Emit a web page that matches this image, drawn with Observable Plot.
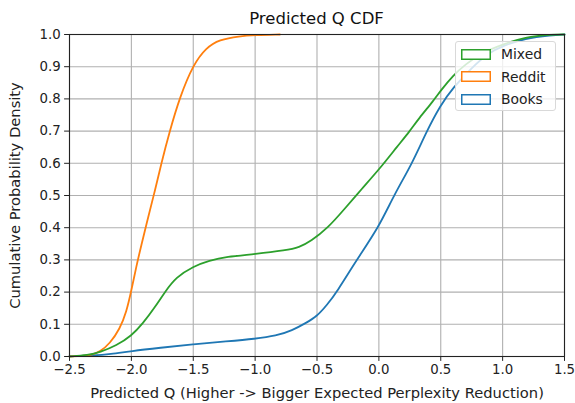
<!DOCTYPE html>
<html>
<head>
<meta charset="utf-8">
<script src="https://cdn.jsdelivr.net/npm/d3@7"></script>
<script src="https://cdn.jsdelivr.net/npm/@observablehq/plot@0.6"></script>
<style>
  body { margin: 0; background: #fff; font-family: "DejaVu Sans", sans-serif; overflow: hidden; }
  #wrap { position: relative; width: 575px; height: 403px; }
  #legend { position: absolute; left: 455px; top: 41px; width: 101px; height: 70px;
    background: rgba(255,255,255,0.8); border: 1px solid #d9d9d9; border-radius: 3px; box-sizing: border-box; }
  .item { position: absolute; left: 5px; height: 14px; display: flex; align-items: center; font-size: 13.9px; color: #222; white-space: nowrap; }
  .item svg { margin-right: 10px; flex: none; }
</style>
</head>
<body>
<div id="wrap"><div id="chart"></div><div id="legend"></div></div>
<script>
const title = "Predicted Q CDF";
const xLabel = "Predicted Q (Higher -> Bigger Expected Perplexity Reduction)";
const yLabel = "Cumulative Probability Density";
const seriesNames = ["Mixed", "Reddit", "Books"];
const seriesColors = ["#2ca02c", "#ff7f0e", "#1f77b4"];
const xTicks = [-2.5, -2.0, -1.5, -1.0, -0.5, 0.0, 0.5, 1.0, 1.5];
const yTicks = [0, 0.1, 0.2, 0.3, 0.4, 0.5, 0.6, 0.7, 0.8, 0.9, 1.0];

const redditX = [-2.5, -2.4, -2.31, -2.254, -2.174, -2.093, -2.04, -2.0, -1.96, -1.92, -1.865, -1.81, -1.76, -1.69, -1.61, -1.5, -1.395, -1.29, -1.127, -1.0, -0.8];
const redditY = [0.0, 0.001, 0.006, 0.015, 0.04, 0.086, 0.138, 0.205, 0.28, 0.345, 0.432, 0.514, 0.597, 0.70, 0.804, 0.907, 0.959, 0.984, 0.995, 0.998, 1.0];

const mixedX = [-2.5, -2.35, -2.254, -2.12, -2.0, -1.91, -1.81, -1.73, -1.64, -1.5, -1.37, -1.234, -1.0, -0.75, -0.644, -0.55, -0.41, -0.28, -0.14, 0.0, 0.15, 0.25, 0.32, 0.443, 0.5, 0.6, 0.698, 0.83, 1.0, 1.18, 1.395, 1.5];
const mixedY = [0.0, 0.004, 0.013, 0.034, 0.064, 0.101, 0.153, 0.20, 0.246, 0.28, 0.298, 0.31, 0.318, 0.33, 0.339, 0.358, 0.40, 0.457, 0.52, 0.58, 0.653, 0.70, 0.738, 0.795, 0.826, 0.873, 0.907, 0.943, 0.969, 0.992, 1.0, 1.0];

const booksX = [-2.5, -2.31, -2.17, -2.0, -1.77, -1.5, -1.23, -1.0, -0.83, -0.70, -0.59, -0.5, -0.42, -0.34, -0.18, 0.0, 0.12, 0.27, 0.38, 0.5, 0.6, 0.75, 0.886, 1.0, 1.18, 1.395, 1.5];
const booksY = [0.001, 0.003, 0.007, 0.017, 0.027, 0.038, 0.047, 0.055, 0.064, 0.081, 0.104, 0.125, 0.16, 0.20, 0.30, 0.402, 0.50, 0.60, 0.695, 0.782, 0.835, 0.897, 0.943, 0.964, 0.988, 0.998, 1.0];

const seriesX = [mixedX, redditX, booksX];
const seriesY = [mixedY, redditY, booksY];
const data = seriesNames.flatMap((name, i) => seriesX[i].map((x, j) => ({series: name, x, y: seriesY[i][j]})));
const drawOrder = ["Books", "Reddit", "Mixed"];

const fmt = d3.format(".1f");
const mL = 69, mR = 11;
const chart = Plot.plot({
  width: 575, height: 403,
  marginLeft: mL, marginRight: mR, marginTop: 34, marginBottom: 47,
  style: {fontFamily: "DejaVu Sans, sans-serif", fontSize: "13.3px", color: "#222", background: "#fff", overflow: "visible"},
  x: {domain: [-2.5, 1.5]},
  y: {domain: [0, 1]},
  color: {domain: seriesNames, range: seriesColors},
  marks: [
    Plot.gridX(xTicks, {stroke: "#b0b0b0", strokeOpacity: 1, strokeWidth: 1.1}),
    Plot.gridY(yTicks, {stroke: "#b0b0b0", strokeOpacity: 1, strokeWidth: 1.1}),
    ...drawOrder.map(s => Plot.line(data.filter(d => d.series === s), {x: "x", y: "y", stroke: "series", strokeWidth: 1.8, curve: "basis"})),
    Plot.axisX(xTicks, {tickFormat: fmt, tickSize: 4.9, tickPadding: 3, fontSize: 13.3, label: xLabel, labelAnchor: "center", labelOffset: 41, labelArrow: false}),
    Plot.axisY(yTicks, {tickFormat: fmt, tickSize: 4.9, tickPadding: 4, fontSize: 13.3, label: yLabel, labelAnchor: "center", labelOffset: 60, labelArrow: false}),
    Plot.frame({stroke: "#222", strokeWidth: 1.1})
  ]
});
chart.style.display = "block";
document.getElementById("chart").appendChild(chart);

chart.querySelectorAll("[aria-label='x-axis label'], [aria-label='y-axis label']").forEach(g => {
  g.setAttribute("font-size", "14.7");
  g.querySelectorAll("text").forEach(t => t.style.fontSize = "14.7px");
});

// title
const svg = d3.select(chart);
svg.append("text").attr("x", (mL + 575 - mR) / 2).attr("y", 24).attr("text-anchor", "middle")
  .style("font-size", "16.5px").style("font-family", "DejaVu Sans, sans-serif").attr("fill", "#111").text(title);

// legend
const lg = document.getElementById("legend");
seriesNames.forEach((name, i) => {
  const it = document.createElement("div");
  it.className = "item";
  it.style.top = (5 + i * 22.5) + "px";
  const sw = d3.create("svg").attr("width", 30).attr("height", 11);
  sw.append("rect").attr("x", 0.75).attr("y", 0.75).attr("width", 28.5).attr("height", 9.5)
    .attr("fill", "#fff").attr("stroke", seriesColors[i]).attr("stroke-width", 1.5);
  it.appendChild(sw.node());
  it.appendChild(document.createTextNode(name));
  lg.appendChild(it);
});
</script>
</body>
</html>
